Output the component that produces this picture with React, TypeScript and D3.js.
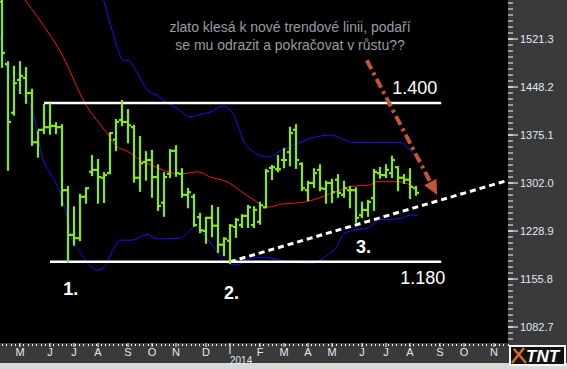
import { useEffect, useRef } from "react";
import * as d3 from "d3";

// weekly gold bars, first bar = week ending 12 Apr 2013
const firstWeek = new Date(2013, 3, 12);

const opens = [
  1578, 1483, 1409, 1459, 1462, 1439, 1364, 1383, 1387, 1389,
  1387, 1291, 1223, 1218, 1281, 1319, 1322, 1310, 1317, 1368,
  1398, 1395, 1387, 1310, 1334, 1337, 1311, 1272, 1316, 1351,
  1316, 1284, 1281, 1250, 1229, 1249, 1237, 1208, 1214, 1235,
  1238, 1252, 1238, 1243, 1265, 1325, 1323, 1337, 1349, 1383,
  1331, 1291, 1302, 1322, 1293, 1302, 1307, 1284, 1291, 1291,
  1253, 1261, 1279, 1317, 1314, 1317, 1326, 1310, 1307, 1294,
];
const highs = [
  1588, 1486, 1479, 1486, 1477, 1444, 1380, 1421, 1422, 1393,
  1390, 1296, 1265, 1284, 1294, 1343, 1337, 1317, 1378, 1398,
  1427, 1413, 1389, 1372, 1349, 1351, 1329, 1317, 1352, 1358,
  1323, 1293, 1284, 1255, 1249, 1267, 1264, 1218, 1238, 1247,
  1253, 1267, 1265, 1272, 1322, 1328, 1343, 1354, 1386, 1390,
  1332, 1304, 1323, 1329, 1304, 1307, 1314, 1304, 1296, 1294,
  1272, 1275, 1322, 1325, 1329, 1342, 1326, 1314, 1323, 1296,
];
const lows = [
  1479, 1322, 1406, 1439, 1424, 1360, 1342, 1378, 1377, 1378,
  1268, 1182, 1208, 1215, 1272, 1314, 1272, 1273, 1317, 1352,
  1390, 1364, 1304, 1290, 1307, 1281, 1261, 1252, 1311, 1313,
  1281, 1265, 1237, 1227, 1211, 1221, 1197, 1192, 1180, 1220,
  1235, 1235, 1235, 1240, 1265, 1308, 1320, 1326, 1329, 1325,
  1291, 1276, 1296, 1291, 1272, 1273, 1281, 1281, 1265, 1243,
  1250, 1252, 1261, 1310, 1311, 1311, 1291, 1302, 1279, 1284,
];
const closes = [
  1500, 1395, 1454, 1465, 1439, 1364, 1383, 1387, 1389, 1387,
  1291, 1223, 1218, 1281, 1294, 1322, 1311, 1314, 1378, 1395,
  1395, 1390, 1310, 1332, 1337, 1311, 1267, 1311, 1351, 1317,
  1284, 1288, 1238, 1230, 1249, 1237, 1208, 1217, 1237, 1246,
  1252, 1265, 1261, 1268, 1320, 1326, 1323, 1337, 1378, 1337,
  1294, 1302, 1317, 1294, 1302, 1288, 1287, 1294, 1291, 1249,
  1261, 1273, 1319, 1314, 1322, 1337, 1310, 1307, 1296, 1287,
];

// moving average and bands, as [week offset, price]
const maLine: [number, number][] = [
  [3.5, 1585], [6.3, 1550], [10.2, 1494], [13.8, 1424], [17.5, 1378],
  [19.2, 1357], [20.8, 1351], [23, 1337], [25.8, 1326], [28.5, 1317],
  [30, 1316], [32.7, 1319], [34.7, 1311], [37.5, 1304], [40.2, 1287],
  [42.5, 1273], [44.2, 1265], [46.7, 1270], [49.7, 1272], [51.8, 1276],
  [54.2, 1284], [56.3, 1291], [58.3, 1297], [61.3, 1299], [62.5, 1304],
  [66.3, 1304], [68, 1299], [69.2, 1294],
];
const upperBand: [number, number][] = [
  [16.8, 1585], [18.5, 1530], [19.2, 1509], [20.2, 1489], [21, 1489],
  [22.5, 1470], [24.2, 1444], [25.8, 1436], [27.5, 1424], [29.2, 1416],
  [31.3, 1403], [33, 1406], [34.7, 1410], [36.8, 1419], [38.3, 1410],
  [40.8, 1358], [44.2, 1342], [46.7, 1352], [49.7, 1364], [51.8, 1371],
  [54.7, 1375], [56.3, 1371], [58.3, 1364], [61.3, 1364], [66.3, 1364],
  [68, 1352], [69.7, 1337],
];
const lowerBand: [number, number][] = [
  [-0.5, 1535], [1.3, 1463], [4.2, 1428], [5.2, 1409], [6.7, 1342],
  [8, 1317], [9.3, 1296], [10.2, 1272], [10.8, 1253], [11.7, 1215],
  [13, 1197], [14.7, 1176], [15.8, 1169], [17.2, 1176], [18.5, 1200],
  [19.7, 1215], [21.8, 1215], [24.2, 1224], [25.8, 1217], [29.7, 1218],
  [31.3, 1230], [32.2, 1237], [33.3, 1227], [35, 1208], [37.2, 1182],
  [39.2, 1177], [40.8, 1185], [43, 1189], [44.7, 1188], [47.5, 1182],
  [51.8, 1180], [54.2, 1192], [55.8, 1205], [56.8, 1223], [58.5, 1230],
  [60.8, 1233], [63, 1246], [65.2, 1247], [66.8, 1249], [68, 1253],
  [69.3, 1253],
];

const priceTicks = [1082.7, 1155.8, 1228.9, 1302.0, 1375.1, 1448.2, 1521.3];
const monthLabels = ["M", "J", "J", "A", "S", "O", "N", "D", "", "F", "M", "A", "M", "J", "J", "A", "S", "O", "N"];

const resistance = { level: 1424, from: 7, to: 73.2, label: "1.400" };
const support = { level: 1182, from: 8, to: 73.2, label: "1.180" };
const trendLine: [number, number][] = [[38, 1182], [84.3, 1306]];
const arrowLine: [number, number][] = [[60.8, 1489], [72.5, 1284]];
const pointLabels: { w: number; p: number; t: string }[] = [
  { w: 10.2, p: 1131, t: "1." },
  { w: 37, p: 1125, t: "2." },
  { w: 59, p: 1195, t: "3." },
];

const W = 567;
const H = 369;
const plotR = 508;
const plotB = 343;
const axisB = 363;
const font = "'Liberation Sans', Arial, sans-serif";

const weekDate = (w: number) => new Date(+firstWeek + w * 7 * 864e5);

export default function App() {
  const ref = useRef<SVGSVGElement>(null);

  useEffect(() => {
    document.body.style.margin = "0";
    if (!ref.current) return;
    const root = d3.select(ref.current);
    root.selectAll("*").remove();

    const x = d3.scaleTime().domain([firstWeek, weekDate(70)]).range([2, 422]);
    const xw = (w: number) => x(weekDate(w));
    const y = d3.scaleLinear().domain([1082.7, 1521.3]).range([327, 39]);

    // backgrounds
    root.append("rect").attr("width", W).attr("height", H).attr("fill", "#3a3a3a");
    root.append("rect").attr("x", 0).attr("y", axisB).attr("width", W).attr("height", H - axisB).attr("fill", "#d8d8d8");
    root.append("rect").attr("width", plotR).attr("height", plotB).attr("fill", "#000");

    root.append("defs").append("clipPath").attr("id", "plot")
      .append("rect").attr("width", plotR).attr("height", plotB);

    const g = root.append("g").attr("clip-path", "url(#plot)");

    // annotation text
    const note = g.append("text")
      .attr("x", 290).attr("y", 32)
      .attr("text-anchor", "middle")
      .attr("fill", "#9a9aa2")
      .style("font-family", font)
      .style("font-size", "14px");
    note.append("tspan").attr("x", 290).attr("dy", 0).text("zlato klesá k nové trendové linii, podaří");
    note.append("tspan").attr("x", 290).attr("dy", 18).text("se mu odrazit a pokračovat v růstu??");

    // bands and moving average
    const line = d3.line<[number, number]>().x((d) => xw(d[0])).y((d) => y(d[1])).curve(d3.curveMonotoneX);
    g.append("path").datum(upperBand).attr("fill", "none").attr("stroke", "#1414ff").attr("stroke-width", 1).attr("d", line);
    g.append("path").datum(lowerBand).attr("fill", "none").attr("stroke", "#1414ff").attr("stroke-width", 1).attr("d", line);
    g.append("path").datum(maLine).attr("fill", "none").attr("stroke", "#ff1010").attr("stroke-width", 1).attr("d", line);

    // support / resistance
    [resistance, support].forEach((l) => {
      g.append("line")
        .attr("x1", xw(l.from)).attr("x2", xw(l.to))
        .attr("y1", y(l.level)).attr("y2", y(l.level))
        .attr("stroke", "#fff").attr("stroke-width", 2.5);
    });
    g.append("text").attr("x", xw(resistance.to) - 49).attr("y", y(resistance.level) - 9)
      .attr("fill", "#fff").style("font-family", font).style("font-size", "18px").text(resistance.label);
    g.append("text").attr("x", xw(support.to) - 41).attr("y", y(support.level) + 22)
      .attr("fill", "#fff").style("font-family", font).style("font-size", "18px").text(support.label);

    // trend line
    g.append("line")
      .attr("x1", xw(trendLine[0][0])).attr("y1", y(trendLine[0][1]))
      .attr("x2", xw(trendLine[1][0])).attr("y2", y(trendLine[1][1]))
      .attr("stroke", "#fff").attr("stroke-width", 3).attr("stroke-dasharray", "6,4");

    // bars
    const bars = g.append("g").attr("stroke", "#8ae81a").attr("stroke-width", 2.2);
    closes.forEach((c, i) => {
      const cx = xw(i);
      bars.append("line").attr("x1", cx).attr("x2", cx).attr("y1", y(highs[i]) - 1).attr("y2", y(lows[i]) + 1);
      bars.append("line").attr("x1", cx - 3).attr("x2", cx).attr("y1", y(opens[i])).attr("y2", y(opens[i]));
      bars.append("line").attr("x1", cx).attr("x2", cx + 3).attr("y1", y(c)).attr("y2", y(c));
    });

    // red dash-dot arrow
    const ax1 = xw(arrowLine[0][0]), ay1 = y(arrowLine[0][1]);
    const ax2 = xw(arrowLine[1][0]), ay2 = y(arrowLine[1][1]);
    const ang = Math.atan2(ay2 - ay1, ax2 - ax1);
    const head = 16;
    g.append("line")
      .attr("x1", ax1).attr("y1", ay1)
      .attr("x2", ax2 - Math.cos(ang) * head * 0.8).attr("y2", ay2 - Math.sin(ang) * head * 0.8)
      .attr("stroke", "#c4553a").attr("stroke-width", 4).attr("stroke-dasharray", "10,4,3,4");
    const hp = [
      [ax2, ay2],
      [ax2 - Math.cos(ang - 0.45) * head, ay2 - Math.sin(ang - 0.45) * head],
      [ax2 - Math.cos(ang + 0.45) * head, ay2 - Math.sin(ang + 0.45) * head],
    ];
    g.append("path").attr("d", "M" + hp.map((p) => p.join(",")).join("L") + "Z").attr("fill", "#c4553a");

    // point labels
    pointLabels.forEach((p) => {
      g.append("text").attr("x", xw(p.w)).attr("y", y(p.p))
        .attr("fill", "#fff").style("font-family", font).style("font-size", "18px").style("font-weight", "bold")
        .text(p.t);
    });

    // right axis
    const ra = root.append("g");
    d3.range(-10, 70).map((i) => 1082.7 + (i * 73.1) / 8)
      .filter((v) => y(v) > 0 && y(v) < plotB - 2)
      .forEach((v) => {
        ra.append("line").attr("x1", plotR).attr("x2", plotR + 5).attr("y1", y(v)).attr("y2", y(v))
          .attr("stroke", "#fff").attr("stroke-width", 1);
      });
    priceTicks.forEach((v) => {
      ra.append("line").attr("x1", plotR).attr("x2", plotR + 10).attr("y1", y(v)).attr("y2", y(v))
        .attr("stroke", "#fff").attr("stroke-width", 1);
      ra.append("text").attr("x", plotR + 12).attr("y", y(v) + 4)
        .attr("fill", "#dfeaf7").style("font-family", font).style("font-size", "11px")
        .text(v.toFixed(1));
    });

    // bottom axis
    const ba = root.append("g");
    d3.range(-20, 620, 5).map((d) => new Date(+firstWeek + d * 864e5))
      .filter((d) => x(d) > 0 && x(d) < plotR)
      .forEach((d) => {
        ba.append("rect").attr("x", Math.round(x(d))).attr("y", plotB + 1).attr("width", 1).attr("height", 2).attr("fill", "#fff");
      });
    const monthTicks = d3.timeFriday.range(firstWeek, weekDate(85)).filter((d) => d.getDate() <= 7);
    monthTicks.forEach((d, i) => {
      const mx = x(d);
      const lab = monthLabels[i];
      ba.append("line").attr("x1", mx).attr("x2", mx).attr("y1", plotB).attr("y2", plotB + (lab ? 4 : 11))
        .attr("stroke", "#fff").attr("stroke-width", 1);
      if (lab) {
        ba.append("text").attr("x", mx).attr("y", plotB + 13).attr("text-anchor", "middle")
          .attr("fill", "#dfeaf7").style("font-family", font).style("font-size", "11px").text(lab);
      } else {
        ba.append("text").attr("x", mx).attr("y", axisB + 1)
          .attr("fill", "#dfeaf7").style("font-family", font).style("font-size", "10px").text(d3.timeFormat("%Y")(d));
      }
    });

    // logo
    const lg = root.append("g");
    lg.append("rect").attr("x", plotR + 1).attr("y", plotB + 2).attr("width", 57).attr("height", 21).attr("fill", "#f2f2f2");
    lg.append("rect").attr("x", plotR + 3).attr("y", plotB + 4).attr("width", 53).attr("height", 17).attr("fill", "#111");
    lg.append("path").attr("d", `M${plotR + 4},${plotB + 20} L${plotR + 16},${plotB + 5} M${plotR + 6},${plotB + 6} L${plotR + 18},${plotB + 20}`)
      .attr("stroke", "#d86a30").attr("stroke-width", 2.5);
    lg.append("text").attr("x", plotR + 18).attr("y", plotB + 19)
      .attr("fill", "#fff").style("font-family", font).style("font-size", "17px").style("font-weight", "bold")
      .style("font-style", "italic").text("TNT");
  }, []);

  return <svg ref={ref} width={W} height={H} style={{ display: "block" }} />;
}
